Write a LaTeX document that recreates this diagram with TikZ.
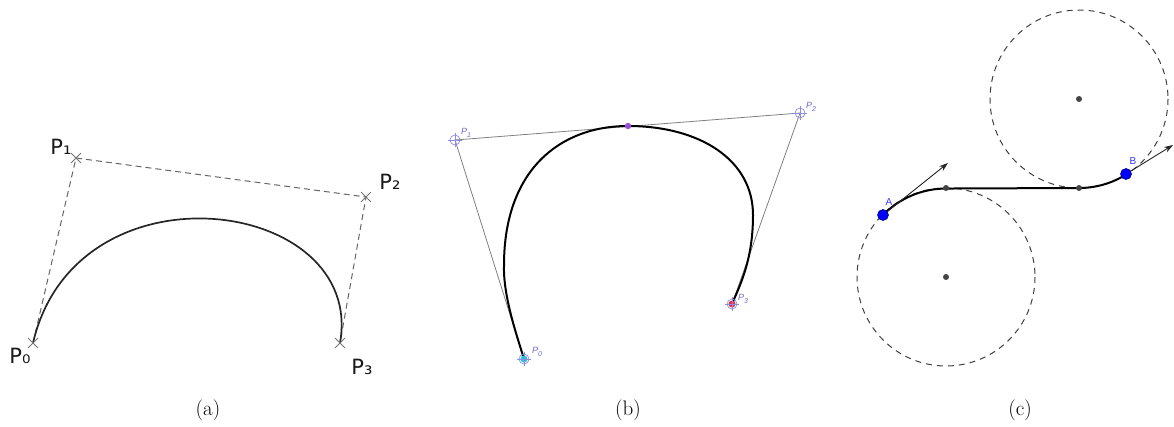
\documentclass[tikz,border=0pt]{standalone}
\usepackage{fontspec}
\newfontfamily\dejavu{DejaVu Sans}
\newfontfamily\libsans{Liberation Sans}
\usetikzlibrary{arrows.meta,shapes.misc}
\definecolor{ptblue}{HTML}{6A6AD4}
\definecolor{mkblue}{HTML}{8C8CE6}
\definecolor{ptcyan}{HTML}{22C8D8}
\definecolor{ptred}{HTML}{E03040}
\definecolor{ptpurple}{HTML}{9A4FD8}
\definecolor{dotgray}{HTML}{444444}
\begin{document}
\begin{tikzpicture}[x=1pt,y=-1pt,
  xmark/.style={cross out,draw=black!55,line width=0.8pt,minimum size=9pt,inner sep=0pt},
  alabel/.style={font=\dejavu\fontsize{21}{23}\selectfont,text=black!90,inner sep=0pt},
  dashctrl/.style={draw=black!60,line width=1pt,dash pattern=on 6pt off 4pt},
  curvea/.style={draw=black!85,line width=1.7pt},
  bctrl/.style={draw=black!50,line width=0.8pt},
  curveb/.style={draw=black,line width=2pt},
  bmark/.style={circle,draw=mkblue,line width=0.7pt,minimum size=10pt,inner sep=0pt},
  blabel/.style={font=\libsans\itshape\fontsize{9}{10}\selectfont,text=ptblue,inner sep=0pt},
  cdash/.style={draw=black!75,line width=1pt,dash pattern=on 6pt off 5pt},
  curvec/.style={draw=black,line width=2pt},
  tangarrow/.style={draw=black!85,line width=0.9pt,-{Stealth[length=9pt,width=6pt]}},
  graydot/.style={circle,fill=dotgray,minimum size=6pt,inner sep=0pt},
  bluedot/.style={circle,fill=blue,draw=blue!50!black,line width=0.6pt,minimum size=11pt,inner sep=0pt},
  clabel/.style={font=\libsans\fontsize{10}{11}\selectfont,text=blue!80!white,inner sep=0pt},
  caption/.style={font=\fontsize{21}{24}\selectfont,inner sep=0pt}]
\useasboundingbox (0,0) rectangle (1174,426);

% ---------------- (a) ----------------
\coordinate (a0) at (33,343);
\coordinate (a1) at (76,158);
\coordinate (a2) at (366,197);
\coordinate (a3) at (340,343);
\draw[dashctrl] (a0) -- (a1) -- (a2) -- (a3);
\draw[curvea] (a0) .. controls (a1) and (a2) .. (a3);
\foreach \p in {a0,a1,a2,a3} \node[xmark] at (\p) {};
\node[alabel] (la0) at (20,356) {P₀};
\node[alabel] (la1) at (61,147) {P₁};
\node[alabel] (la2) at (390,182) {P₂};
\node[alabel] (la3) at (362,367) {P₃};
\node[caption] (capa) at (208,410) {(a)};

% ---------------- (b) ----------------
\coordinate (b0) at (524,359);
\coordinate (b1) at (455,140);
\coordinate (b2) at (800,113);
\coordinate (b3) at (732,304);
\coordinate (btop) at (628,126);
\coordinate (bl) at (504,265);
\coordinate (br) at (753,215);
\draw[bctrl] (b0) -- (b1) -- (b2) -- (b3);
\draw[curveb] (b0) .. controls (516,333) and (503,295) .. (bl)
  .. controls (504,170) and (560,126) .. (btop)
  .. controls (700,126) and (753,160) .. (br)
  .. controls (753,260) and (740,285) .. (b3);
\fill[ptcyan] (b0) circle (3.5pt);
\fill[ptred] (b3) circle (3.5pt);
\fill[ptpurple] (btop) circle (3.2pt);
\foreach \p in {b0,b1,b2,b3} {
  \node[bmark] at (\p) {};
  \draw[mkblue,line width=0.7pt] ([xshift=-7pt]\p) -- ([xshift=7pt]\p);
  \draw[mkblue,line width=0.7pt] ([yshift=-7pt]\p) -- ([yshift=7pt]\p);
}
\node[blabel] (lb0) at (537,352) {P\raisebox{-3pt}{\fontsize{7}{8}\selectfont 0}};
\node[blabel] (lb1) at (466,133) {P\raisebox{-3pt}{\fontsize{7}{8}\selectfont 1}};
\node[blabel] (lb2) at (811,107) {P\raisebox{-3pt}{\fontsize{7}{8}\selectfont 2}};
\node[blabel] (lb3) at (743,299) {P\raisebox{-3pt}{\fontsize{7}{8}\selectfont 3}};
\node[caption] (capb) at (628,410) {(b)};

% ---------------- (c) ----------------
\coordinate (L) at (946,277);
\coordinate (U) at (1079,99);
\coordinate (T1) at (946,188);
\coordinate (T2) at (1079,188);
\coordinate (A) at (883,215);
\coordinate (B) at (1126,174);
\coordinate (Atip) at (948,163);
\coordinate (Btip) at (1173,145);
\draw[cdash] (L) circle[radius=89];
\draw[cdash] (U) circle[radius=89];
\draw[curvec] (A) arc[start angle=-135.5, end angle=-90, radius=88.5] -- (T2)
  arc[start angle=90, end angle=57.9, radius=89];
\draw[tangarrow] (A) -- (Atip);
\draw[tangarrow] (B) -- (Btip);
\node[graydot] (dL) at (L) {};
\node[graydot] (dU) at (U) {};
\node[graydot] (dT1) at (T1) {};
\node[graydot] (dT2) at (T2) {};
\node[bluedot] (nA) at (A) {};
\node[bluedot] (nB) at (B) {};
\node[clabel] (lA) at (889,202) {A};
\node[clabel] (lB) at (1133,161) {B};
\node[caption] (capc) at (1020,410) {(c)};
\end{tikzpicture}
\end{document}
